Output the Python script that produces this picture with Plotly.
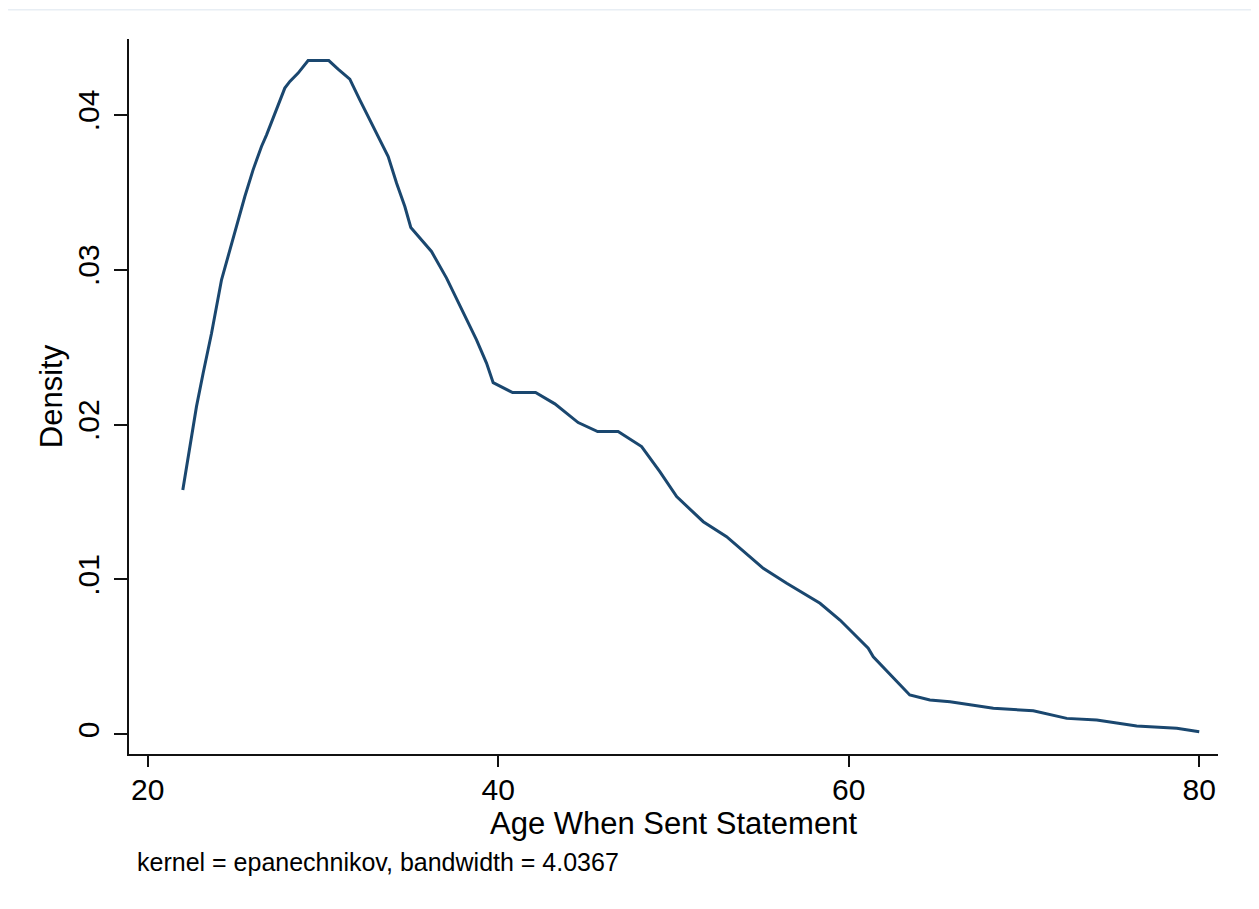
import plotly.graph_objects as go

# Kernel density estimate
age = [22.0, 22.40, 22.78, 23.16, 23.64, 24.21, 24.68, 25.15, 25.54, 26.01,
       26.49, 26.78, 27.35, 27.82, 28.11, 28.58, 29.15, 30.33, 30.86, 31.53,
       32.10, 32.67, 33.24, 33.72, 34.20, 34.67, 35.01, 36.19, 37.05, 37.91,
       38.76, 39.33, 39.71, 40.82, 42.13, 43.23, 44.56, 45.67, 46.84, 48.18,
       49.22, 50.18, 51.70, 53.03, 55.12, 56.46, 58.36, 59.50, 61.11, 61.40,
       63.48, 64.63, 65.78, 68.25, 70.53, 72.44, 74.15, 76.43, 78.72, 80.0]
density = [0.01578, 0.01858, 0.02116, 0.02332, 0.02590, 0.02935, 0.03129, 0.03322, 0.03473, 0.03645,
           0.03796, 0.03871, 0.04033, 0.04173, 0.04216, 0.04270, 0.04351, 0.04351, 0.04296, 0.04231,
           0.04097, 0.03968, 0.03839, 0.03731, 0.03559, 0.03408, 0.03273, 0.03118, 0.02946, 0.02741,
           0.02547, 0.02397, 0.02271, 0.02207, 0.02207, 0.02134, 0.02013, 0.01955, 0.01955, 0.01858,
           0.01696, 0.01535, 0.01373, 0.01276, 0.01072, 0.00975, 0.00846, 0.00738, 0.00556, 0.00501,
           0.00254, 0.00222, 0.00211, 0.00168, 0.00152, 0.00103, 0.00092, 0.00054, 0.00039, 0.00017]

x_ticks = [20, 40, 60, 80]
y_ticks = [0, 0.01, 0.02, 0.03, 0.04]
y_tick_labels = ["0", ".01", ".02", ".03", ".04"]

x_title = "Age When Sent Statement"
y_title = "Density"
note = "kernel = epanechnikov, bandwidth = 4.0367"

FONT = "Liberation Sans, Arial, sans-serif"

fig = go.Figure()
fig.add_trace(go.Scatter(x=age, y=density, mode="lines",
                         line=dict(color="#1a476f", width=3),
                         showlegend=False, hoverinfo="x+y"))

fig.update_layout(
    width=1251, height=901,
    margin=dict(l=121, r=41, t=31, b=155),
    paper_bgcolor="white", plot_bgcolor="white",
    font=dict(family=FONT, color="black"),
    xaxis=dict(range=[18.93, 81.07], tickvals=x_ticks, showgrid=False, zeroline=False,
               showline=True, linecolor="#111111", linewidth=1.5,
               ticks="outside", ticklen=11, tickwidth=1.5, tickcolor="#111111",
               ticklabelstandoff=-3,
               tickfont=dict(size=30, family=FONT),
               title=dict(text=x_title, font=dict(size=31, family=FONT), standoff=0)),
    yaxis=dict(range=[-0.00127, 0.0449], tickvals=y_ticks, ticktext=y_tick_labels,
               showgrid=False, zeroline=False,
               showline=True, linecolor="#111111", linewidth=1.5,
               ticks="outside", ticklen=13, tickwidth=1.5, tickcolor="#111111",
               ticklabelstandoff=3,
               tickangle=-90, tickfont=dict(size=30, family=FONT),
               title=dict(text=y_title, font=dict(size=31, family=FONT), standoff=0)),
    annotations=[dict(text=note, xref="paper", yref="paper",
                      x=(135 - 129) / 1089, y=(754 - 862) / 715,
                      xanchor="left", yanchor="middle", showarrow=False,
                      font=dict(size=25, family=FONT, color="black"))],
    shapes=[dict(type="path", xref="paper", yref="paper",
                 path="M -0.1111,1.041 L 1.0312,1.041 L 1.0312,-0.23",
                 line=dict(color="#e8eef4", width=1.5))],
)

fig.write_html("out.html")
